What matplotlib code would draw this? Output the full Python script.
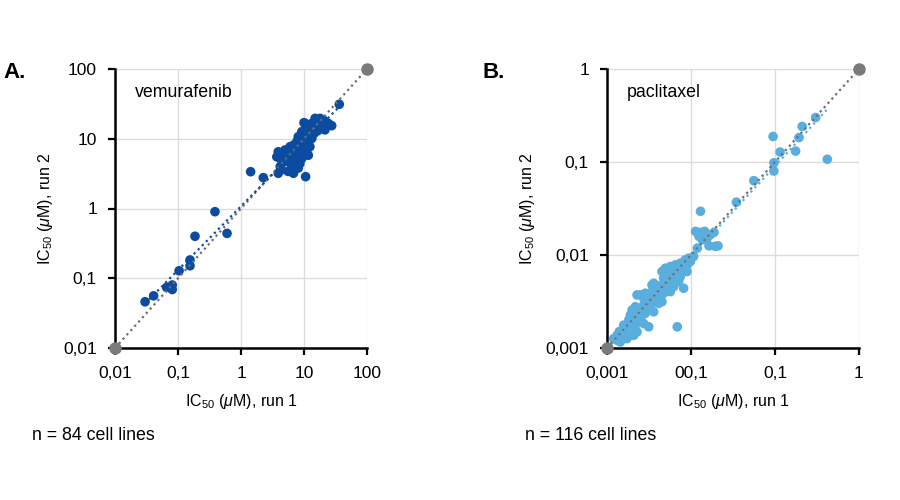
import numpy as np
import matplotlib
matplotlib.use("Agg")
import matplotlib.pyplot as plt
from matplotlib import font_manager

plt.rcParams["font.family"] = ["Liberation Sans", "DejaVu Sans"]

# axis titles in the reference use a condensed face; use it when present
installed = {f.name for f in font_manager.fontManager.ttflist}
narrow = "Liberation Sans Narrow" if "Liberation Sans Narrow" in installed else "Liberation Sans"
plt.rcParams["mathtext.fontset"] = "custom"
plt.rcParams["mathtext.rm"] = narrow
plt.rcParams["mathtext.it"] = narrow + ":italic"

# Panel A: vemurafenib, IC50 (uM) run 1 vs run 2, 84 cell lines
vem_run1 = [
    0.030, 0.041, 0.066, 0.081, 0.081, 0.104, 0.155, 0.155, 0.186, 0.386,
    0.60, 1.42, 2.26, 10.6, 36.3,
    15.0, 16.9, 20.3, 22.9, 27.5, 13.3, 11.7, 10.4, 9.2, 8.1,
    7.7, 6.8, 6.0, 6.4, 7.2, 8.6, 9.8, 11.0, 12.4, 14.1,
    15.9, 11.7, 10.4, 9.2, 8.1, 11.0, 12.4, 3.9, 3.7, 4.2,
    4.7, 5.0, 5.6, 6.0, 6.4, 5.6, 6.8, 4.2, 3.9, 4.4,
    7.7, 8.6, 8.1, 9.2, 13.3, 17.9, 21.5, 24.3, 17.9, 14.1,
    5.0, 7.2, 9.8, 8.6, 11.7, 7.7, 10.0,
    9.5, 12.0, 10.8, 8.8, 7.0, 11.5, 13.0, 16.5, 19.0, 6.2, 9.0, 14.5,
]
vem_run2 = [
    0.046, 0.056, 0.074, 0.069, 0.080, 0.128, 0.183, 0.151, 0.40, 0.90,
    0.44, 3.37, 2.77, 2.86, 31.2,
    19.6, 17.6, 18.6, 15.7, 15.4, 16.6, 14.1, 16.6, 12.6, 10.7,
    9.1, 8.1, 7.7, 6.5, 6.9, 8.1, 9.1, 10.7, 12.0, 13.4,
    14.1, 8.6, 7.3, 6.2, 5.8, 6.5, 7.7, 6.5, 5.5, 5.2,
    5.8, 6.9, 5.5, 4.7, 4.0, 3.4, 3.2, 4.0, 3.2, 3.6,
    5.0, 4.4, 3.8, 5.2, 10.1, 15.4, 13.4, 16.6, 19.6, 15.7,
    4.7, 4.2, 12.6, 10.1, 5.8, 5.8, 17.0,
    11.5, 13.0, 9.5, 9.5, 7.5, 10.0, 11.0, 13.0, 16.5, 5.2, 7.0, 12.0,
]

# Panel B: paclitaxel, IC50 (uM) run 1 vs run 2, 116 cell lines
pac_run1 = [
    0.01076, 0.00940, 0.00857, 0.00748, 0.00652, 0.00569, 0.00495, 0.00818, 0.00714, 0.00622,
    0.00543, 0.00473, 0.00543, 0.00652, 0.00748, 0.00622, 0.00818, 0.00495, 0.00452, 0.00984,
    0.00897, 0.00569, 0.00360, 0.00394, 0.00344, 0.00300, 0.00274, 0.00329, 0.00377, 0.00413,
    0.00228, 0.00250, 0.00452, 0.00314, 0.00274, 0.00250, 0.00218, 0.00199, 0.00228, 0.00190,
    0.00182, 0.00173, 0.00208, 0.00250, 0.00274, 0.00166, 0.00151, 0.00158, 0.00138, 0.00132,
    0.00120, 0.00144, 0.00173, 0.00208, 0.00228, 0.00199, 0.00286, 0.00360, 0.00413, 0.00314,
    0.00687, 0.00344, 0.00300, 0.00239, 0.00158, 0.00190, 0.00218, 0.00262, 0.00329, 0.00413,
    0.00473, 0.00543, 0.00683, 0.00897, 0.00595, 0.00714, 0.00132, 0.00182, 0.00360, 0.00286,
    0.01135, 0.0130, 0.01455, 0.0188, 0.01245, 0.01365, 0.0119, 0.0164, 0.0210, 0.0140,
    0.0155, 0.0170, 0.0195,
    0.305, 0.211, 0.193, 0.176, 0.115, 0.095, 0.097, 0.097, 0.42, 0.056,
    0.0347, 0.013,
    0.00140, 0.00165, 0.00200, 0.00240, 0.00265, 0.00310, 0.00350, 0.00430, 0.00520, 0.00600,
    0.00780,
]
pac_run2 = [
    0.00964, 0.00925, 0.00887, 0.00817, 0.00783, 0.00752, 0.00721, 0.00752, 0.00692, 0.00664,
    0.00611, 0.00562, 0.00518, 0.00562, 0.00586, 0.00457, 0.00439, 0.00476, 0.00664, 0.00851,
    0.00664, 0.00404, 0.00497, 0.00439, 0.00404, 0.00372, 0.00342, 0.00328, 0.00356, 0.00404,
    0.00372, 0.00372, 0.00315, 0.00267, 0.00290, 0.00267, 0.00278, 0.00256, 0.00226, 0.00226,
    0.00200, 0.00176, 0.00191, 0.00200, 0.00183, 0.00162, 0.00149, 0.00132, 0.00126, 0.00121,
    0.00126, 0.00116, 0.00126, 0.00137, 0.00149, 0.00162, 0.00236, 0.00245, 0.00302, 0.00169,
    0.00169, 0.00476, 0.00315, 0.00245, 0.00176, 0.00176, 0.00176, 0.00226, 0.00290, 0.00356,
    0.00388, 0.00692, 0.00721, 0.00783, 0.00497, 0.00518, 0.00137, 0.00143, 0.00420, 0.00388,
    0.01795, 0.0175, 0.01795, 0.0175, 0.01585, 0.0146, 0.01185, 0.01255, 0.01255, 0.0160,
    0.0150, 0.0165, 0.0124,
    0.301, 0.241, 0.183, 0.131, 0.128, 0.188, 0.098, 0.080, 0.107, 0.063,
    0.037, 0.0295,
    0.00150, 0.00140, 0.00215, 0.00210, 0.00250, 0.00280, 0.00310, 0.00470, 0.00600, 0.00700,
    0.00700,
]

vem_ticks = [0.01, 0.1, 1, 10, 100]
vem_labels = ["0,01", "0,1", "1", "10", "100"]
pac_ticks = [0.001, 0.01, 0.1, 1]
pac_xlabels = ["0,001", "00,1", "0,1", "1"]
pac_ylabels = ["0,001", "0,01", "0,1", "1"]

label_font = [narrow, "DejaVu Sans"]
title_size = 13 if narrow != "Liberation Sans" else 11.5


def draw_panel(ax, x, y, color, ticks, xlabels, ylabels, drug):
    x = np.asarray(x)
    y = np.asarray(y)
    lo, hi = ticks[0], ticks[-1]
    ax.set_xscale("log")
    ax.set_yscale("log")
    ax.set_xlim(lo, hi)
    ax.set_ylim(lo, hi)

    ax.scatter(x, y, s=48, color=color, edgecolors="none", zorder=3)

    # identity line with grey end points
    ax.plot([lo, hi], [lo, hi], color="#6e6e6e", lw=1.6,
            linestyle=(0, (1, 1.6)), zorder=4)
    ax.plot([lo, hi], [lo, hi], "o", color="#7a7a7a", ms=8,
            clip_on=False, zorder=6)

    # log-log fit of run 2 against run 1
    slope, icpt = np.polyfit(np.log10(x), np.log10(y), 1)
    fx = np.array([x.min(), x.max()])
    ax.plot(fx, 10 ** (icpt + slope * np.log10(fx)), color=color, lw=1.6,
            linestyle=(0, (1, 1.6)), zorder=4)

    ax.set_xticks(ticks)
    ax.set_xticklabels(xlabels)
    ax.set_yticks(ticks)
    ax.set_yticklabels(ylabels)
    ax.minorticks_off()
    ax.grid(True, color="#dcdcdc", lw=1)
    ax.set_axisbelow(True)
    for side in ["top", "right"]:
        ax.spines[side].set_visible(False)
    for side in ["left", "bottom"]:
        ax.spines[side].set_linewidth(1.8)
        ax.spines[side].set_zorder(5)
    ax.tick_params(direction="out", length=5, width=1.6, labelsize=12.5,
                   pad=8, colors="black")

    ax.set_xlabel(r"IC$_{50}$ ($\mu$M), run 1", fontsize=title_size,
                  family=label_font, labelpad=8)
    ax.set_ylabel(r"IC$_{50}$ ($\mu$M), run 2", fontsize=title_size,
                  family=label_font, labelpad=6)
    ax.text(0.08, 0.915, drug, transform=ax.transAxes, fontsize=12.8,
            va="center", ha="left")


fig = plt.figure(figsize=(9, 5), dpi=100)
ax_a = fig.add_axes([0.1278, 0.304, 0.28, 0.558])
ax_b = fig.add_axes([0.6744, 0.304, 0.28, 0.558])

draw_panel(ax_a, vem_run1, vem_run2, "#0b4ca0", vem_ticks, vem_labels,
           vem_labels, "vemurafenib")
draw_panel(ax_b, pac_run1, pac_run2, "#5aaede", pac_ticks, pac_xlabels,
           pac_ylabels, "paclitaxel")

fig.text(0.004, 0.855, "A.", fontsize=16, fontweight="bold",
         family=label_font, va="center")
fig.text(0.536, 0.855, "B.", fontsize=16, fontweight="bold",
         family=label_font, va="center")
fig.text(0.036, 0.13, "n = 84 cell lines", fontsize=12.8, va="center")
fig.text(0.583, 0.13, "n = 116 cell lines", fontsize=12.8, va="center")

fig.savefig("out.png", dpi=100)
